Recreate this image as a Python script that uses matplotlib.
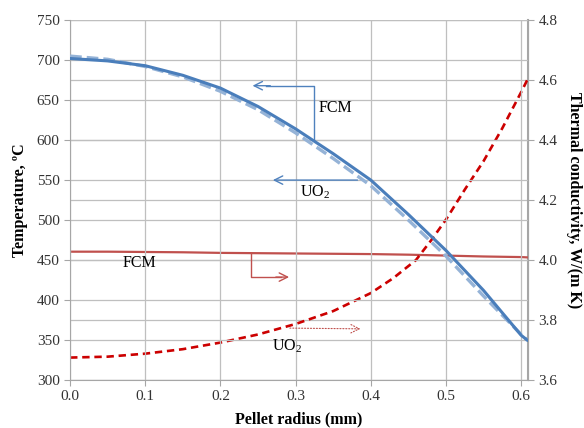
import matplotlib
matplotlib.use('Agg')
import matplotlib.pyplot as plt
import numpy as np

plt.rcParams['font.family'] = ['Liberation Serif', 'DejaVu Serif']
plt.rcParams['mathtext.fontset'] = 'custom'
plt.rcParams['mathtext.rm'] = 'Liberation Serif'

# pellet radius (mm)
r_fcm = [0.0, 0.05, 0.1, 0.15, 0.2, 0.25, 0.3, 0.35, 0.4, 0.45, 0.5, 0.55, 0.6, 0.608]
t_fcm = [702, 699, 693, 681, 665, 642, 614, 583, 550, 507, 462, 412, 356, 350]
r_uo2 = [0.0, 0.05, 0.1, 0.15, 0.2, 0.25, 0.3, 0.35, 0.4, 0.45, 0.5, 0.55, 0.6, 0.608]
t_uo2 = [705, 701, 692, 679, 661, 638, 609, 577, 543, 500, 455, 405, 357, 350]

# thermal conductivity, W/(m K)
k_fcm = [4.028, 4.028, 4.027, 4.026, 4.024, 4.023, 4.022, 4.021, 4.020, 4.018, 4.015, 4.012, 4.010, 4.009]
rk_uo2 = [0.0, 0.05, 0.1, 0.15, 0.2, 0.25, 0.3, 0.35, 0.4, 0.43, 0.46, 0.48, 0.5, 0.525, 0.55, 0.575, 0.6, 0.608]
k_uo2 = [3.675, 3.678, 3.688, 3.703, 3.725, 3.752, 3.787, 3.83, 3.89, 3.94, 4.0, 4.065, 4.135,
         4.235, 4.33, 4.44, 4.56, 4.60]

fig = plt.figure(figsize=(5.84, 4.28), dpi=100)
ax = fig.add_axes([0.12, 0.112, 0.784, 0.841])
ax2 = ax.twinx()

grid_c = '#BFBFBF'
ax.set_xlim(0, 0.609)
ax.set_ylim(300, 750)
ax2.set_ylim(3.6, 4.8)
ax.set_xticks(np.arange(0, 0.61, 0.1))
ax.set_xticklabels(['0.0', '0.1', '0.2', '0.3', '0.4', '0.5', '0.6'])
ax.set_yticks(range(300, 751, 50))
ax2.set_yticks(np.arange(3.6, 4.81, 0.2))
ax2.set_yticklabels(['3.6', '3.8', '4.0', '4.2', '4.4', '4.6', '4.8'])
ax.grid(True, color=grid_c, lw=0.9)
ax2.grid(True, axis='y', color=grid_c, lw=0.9)
ax.set_axisbelow(True)
ax2.set_axisbelow(True)

for a in (ax, ax2):
    for s in a.spines.values():
        s.set_color('#A6A6A6')
    a.spines['top'].set_visible(False)
    a.tick_params(colors='#A6A6A6', labelcolor='#333333', labelsize=11, length=4)
ax2.spines['left'].set_visible(False)
ax2.spines['bottom'].set_visible(False)
ax2.spines['right'].set_linewidth(1.5)

ax2.plot(r_fcm, k_fcm, color='#C0504D', lw=1.6, zorder=3)
ax2.plot(rk_uo2, k_uo2, color='#CC0000', lw=1.9, ls=(0, (2.8, 1.8)), zorder=3)
ax.plot(r_uo2, t_uo2, color='#95B3D7', lw=2.4, ls=(0, (3.5, 1.5)), zorder=4)
ax.plot(r_fcm, t_fcm, color='#4A7EBB', lw=2.2, zorder=5)
ax.set_zorder(ax2.get_zorder() + 1)
ax.patch.set_visible(False)

ax.set_xlabel('Pellet radius (mm)', fontsize=11.5, fontweight='bold', labelpad=6)
ax.set_ylabel('Temperature, ºC', fontsize=11.5, fontweight='bold', labelpad=6)
ax2.set_ylabel('Thermal conductivity, W/(m K)', fontsize=11.5, fontweight='bold',
               rotation=-90, labelpad=18)

blue = '#4F81BD'
red = '#C0504D'
fs = 11.5
# FCM temperature callout
ax.plot([0.3245, 0.3245, 0.26], [600, 668, 668], color=blue, lw=1.0)
ax.annotate('', xy=(0.239, 668), xytext=(0.27, 668),
            arrowprops=dict(arrowstyle='->', color=blue, lw=1.0, mutation_scale=15))
ax.text(0.33, 640, 'FCM', fontsize=fs, va='center', ha='left')
# UO2 temperature callout
ax.annotate('', xy=(0.266, 550), xytext=(0.386, 550),
            arrowprops=dict(arrowstyle='->', color=blue, lw=1.0, mutation_scale=15))
ax.text(0.306, 535, 'UO$_2$', fontsize=fs, va='center', ha='left')
# FCM conductivity callout
ax.plot([0.240, 0.240, 0.28], [458.75, 428.75, 428.75], color=red, lw=1.0)
ax.annotate('', xy=(0.295, 428.75), xytext=(0.27, 428.75),
            arrowprops=dict(arrowstyle='->', color=red, lw=1.0, mutation_scale=15))
ax.text(0.0705, 446, 'FCM', fontsize=fs, va='center', ha='left')
# UO2 conductivity callout
ax.annotate('', xy=(0.39, 364), xytext=(0.2886, 365),
            arrowprops=dict(arrowstyle='->', color=red, lw=0.8, ls=':', mutation_scale=15))
ax.text(0.2686, 342, 'UO$_2$', fontsize=fs, va='center', ha='left')

fig.savefig('out.png', dpi=100)
